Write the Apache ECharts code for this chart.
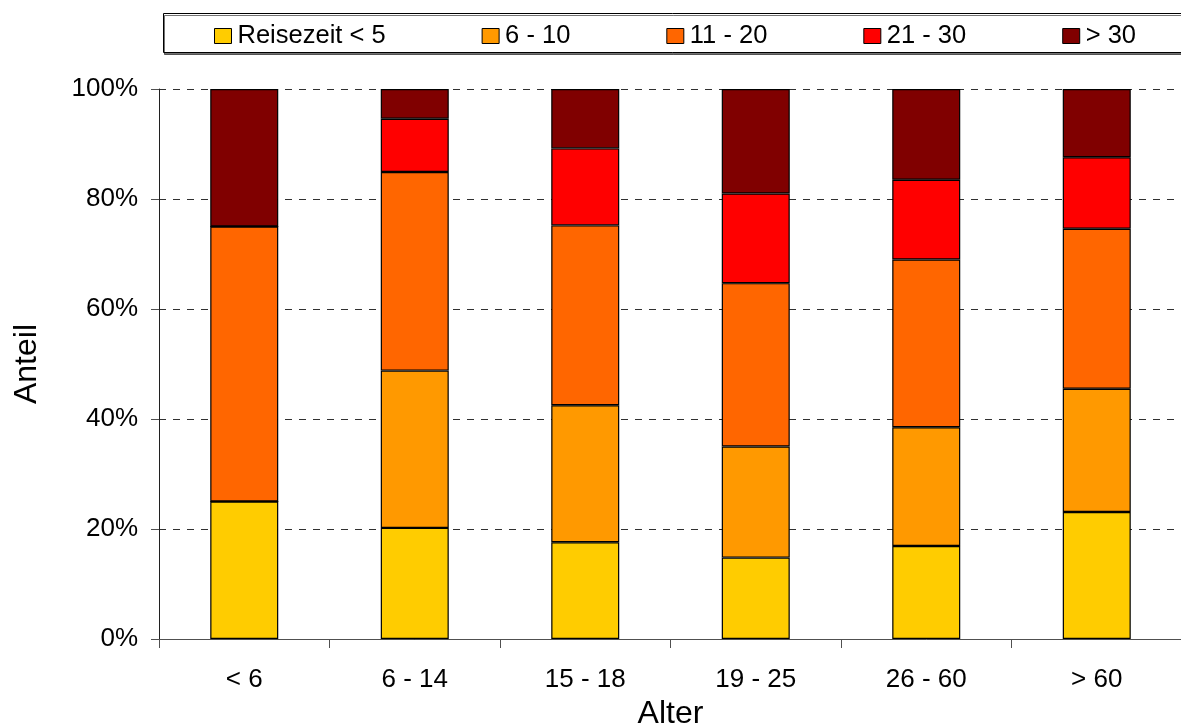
<!DOCTYPE html>
<html>
<head>
<meta charset="utf-8">
<script src="https://cdn.jsdelivr.net/npm/echarts@6/dist/echarts.min.js"></script>
<style>
  html, body { margin: 0; padding: 0; background: #ffffff; }
  #chart { width: 1181px; height: 725px; }
</style>
</head>
<body>
<div id="chart"></div>
<script>
// Age groups on the x axis
const ageGroups = ['< 6', '6 - 14', '15 - 18', '19 - 25', '26 - 60', '> 60'];

// Share (%) of each travel-time class per age group
const travelUnder5 = [25.0, 20.2, 17.6, 14.8, 16.9, 23.1];
const travel6to10  = [0.0, 28.6, 24.9, 20.2, 21.6, 22.4];
const travel11to20 = [50.0, 36.1, 32.7, 29.7, 30.5, 29.1];
const travel21to30 = [0.0, 9.7, 14.0, 16.3, 14.5, 13.0];
const travelOver30 = [25.0, 5.4, 10.8, 19.0, 16.5, 12.4];

const seriesNames = ['Reisezeit < 5', '6 - 10', '11 - 20', '21 - 30', '> 30'];
const seriesColors = ['#FFCC00', '#FF9900', '#FF6600', '#FF0000', '#800000'];
const seriesValues = [travelUnder5, travel6to10, travel11to20, travel21to30, travelOver30];

const font = 'Liberation Sans, Arial, sans-serif';

const chart = echarts.init(document.getElementById('chart'), null, { renderer: 'canvas' });

chart.setOption({
  backgroundColor: '#ffffff',
  animation: false,
  graphic: [{
    // frame around the legend
    type: 'rect',
    shape: { x: 163.5, y: 13.5, width: 1040, height: 39 },
    style: {
      fill: '#ffffff',
      stroke: '#000000',
      lineWidth: 1,
      shadowColor: 'rgba(0,0,0,0.55)',
      shadowOffsetX: 1,
      shadowOffsetY: 2,
      shadowBlur: 0
    },
    z: -1
  }],
  legend: {
    left: 214,
    top: 23,
    itemGap: 96,
    itemWidth: 17,
    itemHeight: 15,
    icon: 'rect',
    padding: 0,
    itemStyle: { borderColor: '#000000', borderWidth: 1 },
    textStyle: { fontFamily: font, fontSize: 25.5, color: '#000000', padding: [0, 0, 0, 1], lineHeight: 26 },
    data: seriesNames
  },
  grid: { left: 159, right: -1, top: 89, bottom: 86, outerBoundsMode: 'none', containLabel: false },
  xAxis: {
    type: 'category',
    data: ageGroups,
    name: 'Alter',
    nameLocation: 'middle',
    nameGap: 56,
    nameTextStyle: { fontFamily: font, fontSize: 32, color: '#000000' },
    axisLine: { show: true, lineStyle: { color: '#505050', width: 1 } },
    axisTick: { show: true, length: 9, alignWithLabel: false, lineStyle: { color: '#505050' } },
    axisLabel: { fontFamily: font, fontSize: 26, color: '#000000', margin: 28 },
    splitLine: { show: false }
  },
  yAxis: {
    type: 'value',
    min: 0,
    max: 100,
    interval: 20,
    name: 'Anteil',
    nameLocation: 'middle',
    nameGap: 116,
    nameRotate: 90,
    nameTextStyle: { fontFamily: font, fontSize: 32, color: '#000000' },
    axisLine: { show: true, lineStyle: { color: '#202020', width: 1 } },
    axisTick: { show: true, inside: false, length: 8, lineStyle: { color: '#505050' } },
    axisLabel: { fontFamily: font, fontSize: 26, color: '#000000', margin: 21, formatter: '{value}%' },
    splitLine: { show: true, lineStyle: { color: '#303030', width: 1, type: [7, 7] } }
  },
  series: seriesNames.map((name, i) => ({
    name: name,
    type: 'bar',
    stack: 'share',
    barWidth: 68,
    data: seriesValues[i],
    itemStyle: { color: seriesColors[i], borderColor: '#000000', borderWidth: 1.2 },
    emphasis: { disabled: true }
  }))
});
</script>
</body>
</html>
